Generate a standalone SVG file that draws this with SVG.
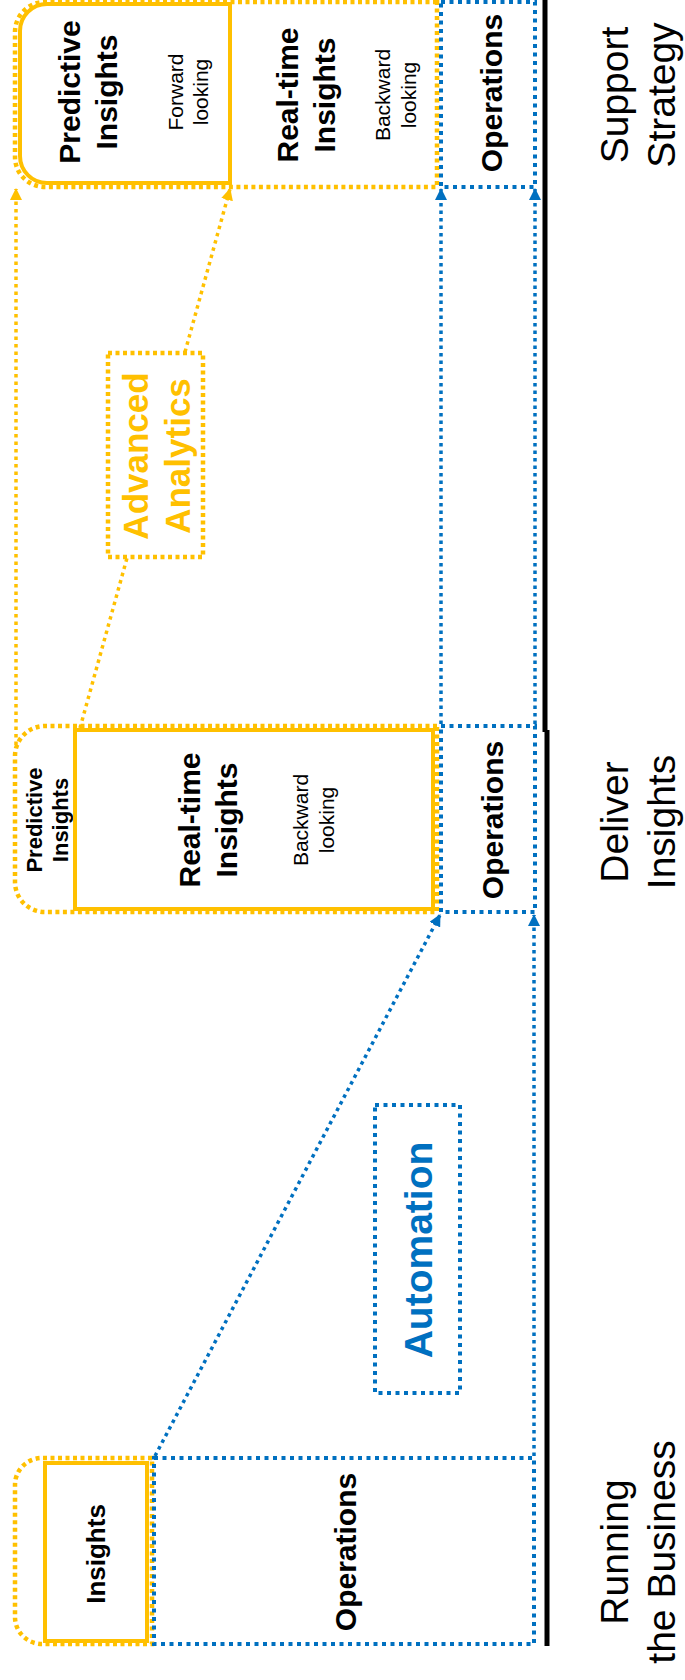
<svg xmlns="http://www.w3.org/2000/svg" width="685" height="1680" viewBox="0 0 685 1680">
<style>
text{font-family:"Liberation Sans",Arial,sans-serif;text-anchor:middle;fill:#000}
.b{font-weight:bold}
.t30{font-size:30px}
.t21{font-size:21px}
.t39{font-size:39px}
.dy{fill:none;stroke:#FFC000;stroke-width:4.5;stroke-dasharray:4 3.5}
.db{fill:none;stroke:#0070C0;stroke-width:4;stroke-dasharray:4 4.5}
.sy{fill:none;stroke:#FFC000;stroke-width:4}
.cy{fill:none;stroke:#FFC000;stroke-width:3.5;stroke-dasharray:3.5 4}
.cb{fill:none;stroke:#0070C0;stroke-width:3.5;stroke-dasharray:3.5 4}
</style>
<defs>
<marker id="ay" markerUnits="userSpaceOnUse" markerWidth="12" markerHeight="12" viewBox="0 0 12 12" refX="11" refY="6" orient="auto"><path d="M0,0 L12,6 L0,12 Z" fill="#FFC000"/></marker>
<marker id="ab" markerUnits="userSpaceOnUse" markerWidth="12" markerHeight="12" viewBox="0 0 12 12" refX="11" refY="6" orient="auto"><path d="M0,0 L12,6 L0,12 Z" fill="#0070C0"/></marker>
</defs>
<rect width="685" height="1680" fill="#fff"/>

<g id="axis">
<line x1="545" y1="0" x2="545" y2="732" stroke="#000" stroke-width="5"/>
<line x1="547" y1="730" x2="547" y2="1646" stroke="#000" stroke-width="5"/>
</g>

<g id="connectors">
<path class="cb" d="M441,724 V189" marker-end="url(#ab)"/>
<path class="cb" d="M535,724 V189" marker-end="url(#ab)"/>
<path class="cb" d="M155,1456 L440,915" marker-end="url(#ab)"/>
<path class="cb" d="M534,1456 V915" marker-end="url(#ab)"/>
<path class="cy" d="M16,745 V189" marker-end="url(#ay)"/>
<path class="cy" d="M185,352 L230,189" marker-end="url(#ay)"/>
<path class="cy" d="M80,728 L127,558"/>
</g>

<!-- Top: Support Strategy -->
<g id="top-group">
<path class="dy" d="M437,2 H45 A30,30 0 0 0 15,32 V157 A30,30 0 0 0 45,187 H437 Z"/>
</g>
<g id="top-predictive">
<path class="sy" d="M230,4 H47 A27,27 0 0 0 20,31 V156 A27,27 0 0 0 47,183 H230 Z"/>
<text class="b t30" transform="translate(80,92) rotate(-90)"><tspan x="0">Predictive</tspan><tspan x="0" dy="37">Insights</tspan></text>
<text class="t21" transform="translate(183,92) rotate(-90)"><tspan x="0">Forward</tspan><tspan x="0" dy="25">looking</tspan></text>
</g>
<g id="top-realtime">
<text class="b t30" transform="translate(298,95) rotate(-90)"><tspan x="0">Real-time</tspan><tspan x="0" dy="37">Insights</tspan></text>
<text class="t21" transform="translate(390,95) rotate(-90)"><tspan x="0">Backward</tspan><tspan x="0" dy="26">looking</tspan></text>
</g>
<g id="top-operations">
<rect class="db" x="441" y="2" width="94" height="185"/>
<text class="b t30" transform="translate(502,93) rotate(-90)">Operations</text>
</g>
<g id="label-support">
<text class="t39" transform="translate(628,95) rotate(-90)"><tspan x="0">Support</tspan><tspan x="0" dy="47">Strategy</tspan></text>
</g>

<!-- Advanced Analytics -->
<g id="advanced-analytics">
<rect class="dy" x="108" y="353" width="95" height="204"/>
<text class="b" style="font-size:35px;fill:#FFC000" transform="translate(148,456) rotate(-90)"><tspan x="0">Advanced</tspan><tspan x="0" dy="42">Analytics</tspan></text>
</g>

<!-- Middle: Deliver Insights -->
<g id="mid-group">
<path class="dy" d="M437,726 H45 A30,30 0 0 0 15,756 V882 A30,30 0 0 0 45,912 H437 Z"/>
<text class="b" style="font-size:22px" transform="translate(42,820) rotate(-90)"><tspan x="0">Predictive</tspan><tspan x="0" dy="26">Insights</tspan></text>
</g>
<g id="mid-realtime">
<rect class="sy" x="75" y="730" width="358" height="179"/>
<text class="b t30" transform="translate(200,820) rotate(-90)"><tspan x="0">Real-time</tspan><tspan x="0" dy="37">Insights</tspan></text>
<text class="t21" transform="translate(308,820) rotate(-90)"><tspan x="0">Backward</tspan><tspan x="0" dy="26">looking</tspan></text>
</g>
<g id="mid-operations">
<rect class="db" x="441" y="726" width="94" height="186"/>
<text class="b t30" transform="translate(503,820) rotate(-90)">Operations</text>
</g>
<g id="label-deliver">
<text class="t39" transform="translate(628,822) rotate(-90)"><tspan x="0">Deliver</tspan><tspan x="0" dy="47">Insights</tspan></text>
</g>

<!-- Automation -->
<g id="automation">
<rect class="db" x="375" y="1105" width="85" height="288"/>
<text class="b t39" style="fill:#0070C0" transform="translate(432,1250) rotate(-90)">Automation</text>
</g>

<!-- Bottom: Running the Business -->
<g id="bottom-group">
<path class="dy" d="M152,1458 H42 A27,27 0 0 0 15,1485 V1617 A27,27 0 0 0 42,1644 H152 Z"/>
</g>
<g id="bottom-insights">
<rect class="sy" x="45" y="1463" width="102" height="178"/>
<text class="b" style="font-size:26px" transform="translate(105,1554) rotate(-90)">Insights</text>
</g>
<g id="bottom-operations">
<rect class="db" x="154" y="1458" width="380" height="186"/>
<text class="b t30" transform="translate(356,1552) rotate(-90)">Operations</text>
</g>
<g id="label-running">
<text class="t39" transform="translate(628,1552) rotate(-90)"><tspan x="0">Running</tspan><tspan x="0" dy="47">the Business</tspan></text>
</g>
</svg>
